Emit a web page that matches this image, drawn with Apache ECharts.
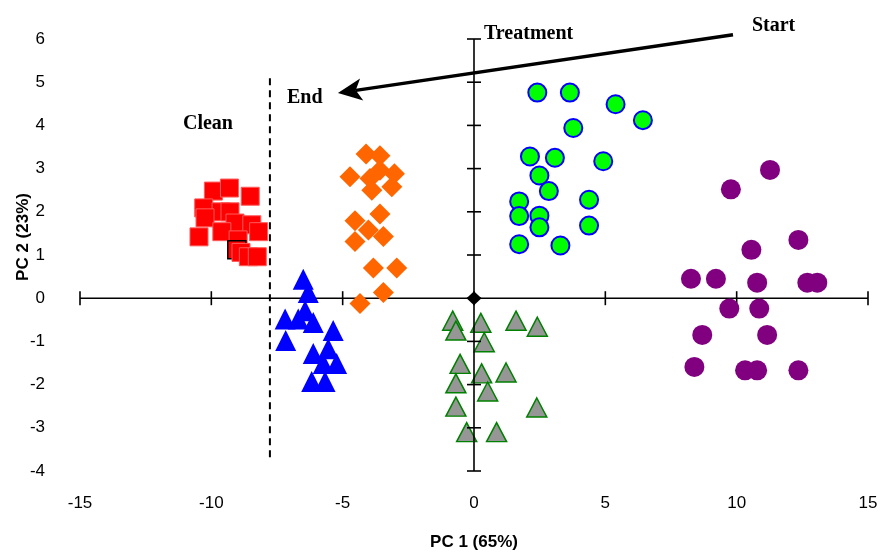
<!DOCTYPE html>
<html>
<head>
<meta charset="utf-8">
<script src="https://cdn.jsdelivr.net/npm/echarts@6/dist/echarts.min.js"></script>
<style>
  html, body { margin: 0; padding: 0; background: #ffffff; }
  #chart { width: 887px; height: 556px; }
</style>
</head>
<body>
<div id="chart"></div>
<script>
// Axis ranges and tick values
const xTicks = [-15, -10, -5, 0, 5, 10, 15];
const yTicks = [-4, -3, -2, -1, 0, 1, 2, 3, 4, 5, 6];

// PCA scores per group (PC 1, PC 2)
const cleanScores = [
  [-9.92, 2.48], [-9.31, 2.55], [-8.52, 2.36], [-10.29, 2.09], [-9.63, 2.00],
  [-9.29, 2.00], [-10.24, 1.86], [-9.10, 1.74], [-8.46, 1.70], [-8.20, 1.54],
  [-9.60, 1.54], [-10.47, 1.42], [-8.98, 1.35], [-9.03, 1.12], [-8.87, 1.06],
  [-8.59, 0.96], [-8.25, 0.96]
];
const cleanOutlinedIndex = 13;

const orangeScores = [
  [-4.11, 3.34], [-3.58, 3.30], [-4.72, 2.81], [-3.58, 2.96], [-3.96, 2.77],
  [-3.03, 2.88], [-3.13, 2.58], [-3.89, 2.50], [-3.58, 1.95], [-4.53, 1.79],
  [-4.02, 1.58], [-3.45, 1.43], [-4.53, 1.31], [-3.83, 0.70], [-2.94, 0.70],
  [-3.45, 0.13], [-4.34, -0.12]
];

const blueScores = [
  [-6.50, 0.44], [-6.31, 0.13], [-7.19, -0.48], [-6.43, -0.29], [-6.69, -0.48],
  [-6.12, -0.56], [-7.17, -0.98], [-5.36, -0.75], [-6.12, -1.28], [-5.55, -1.17],
  [-5.23, -1.51], [-5.74, -1.51], [-6.18, -1.93], [-5.67, -1.93]
];

const greenScores = [
  [2.41, 4.76], [3.65, 4.76], [5.39, 4.49], [6.43, 4.12], [3.78, 3.94],
  [2.13, 3.28], [3.08, 3.25], [4.92, 3.17], [2.49, 2.84], [2.85, 2.48],
  [1.72, 2.24], [4.38, 2.28], [1.72, 1.90], [2.49, 1.91], [2.49, 1.64],
  [4.38, 1.68], [1.72, 1.25], [3.29, 1.22]
];

const grayScores = [
  [-0.81, -0.52], [-0.69, -0.75], [0.26, -0.57], [1.60, -0.52], [2.41, -0.66],
  [0.39, -1.02], [-0.53, -1.52], [0.29, -1.74], [1.22, -1.72], [-0.69, -1.97],
  [0.52, -2.16], [-0.69, -2.51], [2.39, -2.53], [-0.28, -3.10], [0.86, -3.10]
];

const purpleScores = [
  [11.27, 2.97], [9.78, 2.52], [12.35, 1.35], [10.56, 1.12], [8.26, 0.45],
  [9.21, 0.45], [10.78, 0.36], [12.69, 0.36], [13.07, 0.36], [9.72, -0.24],
  [10.86, -0.24], [8.69, -0.85], [11.16, -0.85], [8.39, -1.59], [10.32, -1.67],
  [10.78, -1.67], [12.35, -1.67]
];

const originPoint = [[0, 0]];

// Vertical dashed boundary of the clean region
const cleanBoundaryX = -7.77;
const cleanBoundaryTop = 5.09;
const cleanBoundaryBottom = -3.76;

// Annotation anchors (data coordinates, left edge of text)
const annotations = [
  { text: 'Treatment', at: [0.38, 6.12] },
  { text: 'Start', at: [10.58, 6.31] },
  { text: 'End', at: [-7.12, 4.63] },
  { text: 'Clean', at: [-11.08, 4.04] }
];
const trajectoryStart = [9.86, 6.10];
const trajectoryEnd = [-5.18, 4.75];

const chart = echarts.init(document.getElementById('chart'), null, { renderer: 'canvas' });

const labelFont = { fontFamily: '"Liberation Sans", Arial, sans-serif', fontSize: 17, color: '#000' };

function axesRender(params, api) {
  const children = [];
  const seg = (a, b, style) => ({
    type: 'line',
    shape: { x1: a[0], y1: a[1], x2: b[0], y2: b[1] },
    style: Object.assign({ stroke: '#000', lineWidth: 1.6 }, style || {})
  });
  const xMin = xTicks[0], xMax = xTicks[xTicks.length - 1];
  const yMin = yTicks[0], yMax = yTicks[yTicks.length - 1];
  children.push(seg(api.coord([xMin, 0]), api.coord([xMax, 0])));
  children.push(seg(api.coord([0, yMin]), api.coord([0, yMax])));
  xTicks.forEach(t => {
    const c = api.coord([t, 0]);
    children.push(seg([c[0], c[1] - 7], [c[0], c[1] + 7]));
  });
  yTicks.forEach(t => {
    const c = api.coord([0, t]);
    children.push(seg([c[0] - 7, c[1]], [c[0] + 7, c[1]]));
  });
  children.push(seg(api.coord([cleanBoundaryX, cleanBoundaryTop]),
                    api.coord([cleanBoundaryX, cleanBoundaryBottom]),
                    { lineWidth: 2, lineDash: [7, 5] }));
  return { type: 'group', children };
}

chart.setOption({
  animation: false,
  backgroundColor: '#ffffff',
  grid: { left: 80, right: 19, top: 39, bottom: 80, containLabel: false },
  xAxis: {
    type: 'value', min: -15, max: 15, interval: 5,
    axisLine: { show: false, onZero: false }, axisTick: { show: false },
    splitLine: { show: false },
    axisLabel: Object.assign({ margin: 24 }, labelFont),
    name: 'PC 1 (65%)', nameLocation: 'middle', nameGap: 63,
    nameTextStyle: { fontFamily: '"Liberation Sans", Arial, sans-serif', fontSize: 17, fontWeight: 'bold', color: '#000' }
  },
  yAxis: {
    type: 'value', min: -4, max: 6, interval: 1,
    axisLine: { show: false, onZero: false }, axisTick: { show: false },
    splitLine: { show: false },
    axisLabel: Object.assign({ margin: 35 }, labelFont)
  },
  series: [
    {
      type: 'scatter', name: 'gray', data: grayScores, z: 1,
      symbol: 'triangle', symbolSize: [20, 19],
      itemStyle: { color: '#969696', borderColor: '#008000', borderWidth: 1.5, opacity: 1 }
    },
    {
      type: 'custom', name: 'axes', data: [[0, 0]], renderItem: axesRender, clip: false, z: 2,
      silent: true
    },
    {
      type: 'scatter', name: 'clean', z: 3,
      data: cleanScores.map((v, i) => i === cleanOutlinedIndex
        ? { value: v, itemStyle: { borderColor: '#000', borderWidth: 1.5 } }
        : v),
      symbol: 'rect', symbolSize: 18,
      itemStyle: { color: '#ff0000', borderColor: '#ff5a5a', borderWidth: 1, opacity: 1 }
    },
    {
      type: 'scatter', name: 'orange', data: orangeScores, z: 3,
      symbol: 'diamond', symbolSize: [21, 21],
      itemStyle: { color: '#ff6600', opacity: 1 }
    },
    {
      type: 'scatter', name: 'blue', data: blueScores, z: 3,
      symbol: 'triangle', symbolSize: [21, 21],
      itemStyle: { color: '#0000ff', opacity: 1 }
    },
    {
      type: 'scatter', name: 'green', data: greenScores, z: 3,
      symbol: 'circle', symbolSize: 18,
      itemStyle: { color: '#00ff00', borderColor: '#0000ff', borderWidth: 2, opacity: 1 }
    },
    {
      type: 'scatter', name: 'purple', data: purpleScores, z: 3,
      symbol: 'circle', symbolSize: 20,
      itemStyle: { color: '#800080', opacity: 1 }
    },
    {
      type: 'scatter', name: 'origin', data: originPoint, z: 4,
      symbol: 'diamond', symbolSize: [15, 14],
      itemStyle: { color: '#000000', opacity: 1 }
    }
  ]
});

// Annotation text, trajectory arrow and vertical axis title
const px = p => chart.convertToPixel({ gridIndex: 0 }, p);
const graphics = [];
annotations.forEach(a => {
  const p = px(a.at);
  graphics.push({
    type: 'text', x: p[0], y: p[1],
    style: {
      text: a.text, fill: '#000', align: 'left', verticalAlign: 'middle',
      font: 'bold 20px "Liberation Serif", "Times New Roman", serif'
    }
  });
});
const S = px(trajectoryStart), E = px(trajectoryEnd);
const dx = S[0] - E[0], dy = S[1] - E[1], len = Math.hypot(dx, dy);
const ux = dx / len, uy = dy / len, nx = -uy, ny = ux;
const headLen = 24, headHalf = 11, notch = 18;
graphics.push({
  type: 'line',
  shape: { x1: S[0], y1: S[1], x2: E[0] + ux * notch, y2: E[1] + uy * notch },
  style: { stroke: '#000', lineWidth: 3.5 }
});
graphics.push({
  type: 'polygon',
  shape: { points: [
    [E[0], E[1]],
    [E[0] + ux * headLen + nx * headHalf, E[1] + uy * headLen + ny * headHalf],
    [E[0] + ux * notch, E[1] + uy * notch],
    [E[0] + ux * headLen - nx * headHalf, E[1] + uy * headLen - ny * headHalf]
  ] },
  style: { fill: '#000' }
});
graphics.push({
  type: 'text', x: 23, y: 237, rotation: Math.PI / 2,
  style: {
    text: 'PC 2 (23%)', fill: '#000', align: 'center', verticalAlign: 'middle',
    font: 'bold 17px "Liberation Sans", Arial, sans-serif'
  }
});
chart.setOption({ graphic: graphics });
</script>
</body>
</html>
